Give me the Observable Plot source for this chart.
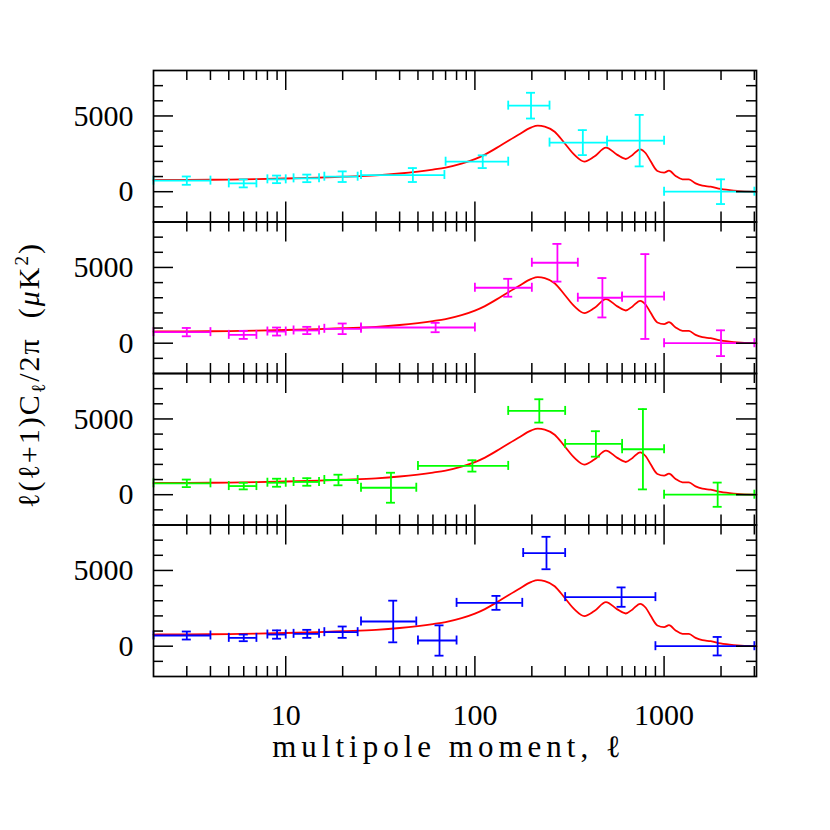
<!DOCTYPE html>
<html><head><meta charset="utf-8">
<script src="https://cdn.jsdelivr.net/npm/d3@7"></script>
<script src="https://cdn.jsdelivr.net/npm/@observablehq/plot@0.6"></script>
<style>
html,body{margin:0;padding:0;background:#fff;}
#chart{width:830px;height:830px;}
</style></head>
<body><div id="chart"></div>
<script>
// ---- data ----
const panelColors = ["#00ffff", "#ff00ff", "#00ff00", "#0000ff"];

// panel 1 (cyan)
const ell1  = [3, 6, 9, 13, 20, 47, 110, 198, 372, 743, 2000];
const lmin1 = [2, 5, 8, 11, 16, 25, 70, 150, 248, 500, 1000];
const lmax1 = [4, 7, 10, 15, 24, 69, 150, 248, 500, 1000, 3000];
const val1  = [730, 550, 815, 880, 990, 1100, 1980, 5680, 3240, 3370, 0];
const err1  = [275, 265, 250, 250, 350, 460, 420, 850, 825, 1700, 815];

// panel 2 (magenta)
const ell2  = [3, 6, 9, 13, 20, 62, 150, 273, 472, 796, 2000];
const lmin2 = [2, 5, 8, 11, 16, 25, 100, 200, 350, 600, 1000];
const lmax2 = [4, 7, 10, 15, 25, 100, 200, 350, 600, 1000, 3000];
const val2  = [730, 550, 770, 840, 950, 1035, 3660, 5310, 3000, 3080, 0];
const err2  = [275, 265, 265, 240, 350, 310, 590, 1245, 1300, 2800, 850];

// panel 3 (green)
const ell3  = [3, 6, 9, 13, 19, 36, 97, 219, 436, 773, 1920];
const lmin3 = [2, 5, 8, 11, 16, 25, 50, 150, 300, 600, 1000];
const lmax3 = [4, 7, 10, 15, 24, 49, 150, 300, 600, 1000, 3000];
const val3  = [750, 570, 790, 840, 970, 460, 1900, 5530, 3350, 3000, 0];
const err3  = [250, 220, 265, 250, 350, 990, 375, 770, 840, 2650, 800];

// panel 4 (blue)
const ell4  = [3, 6, 9, 13, 20, 37, 65, 130, 239, 596, 1920];
const lmin4 = [2, 5, 8, 11, 16, 25, 50, 80, 180, 300, 900];
const lmax4 = [4, 7, 10, 15, 24, 49, 80, 178, 300, 900, 3000];
const val4  = [705, 550, 770, 815, 925, 1630, 375, 2860, 6150, 3240, 0];
const err4  = [265, 220, 275, 265, 375, 1375, 1000, 460, 1070, 640, 610];

// theory curve
const theoryEll = [2, 3, 5, 7, 10, 15, 20, 30, 40, 50, 60, 70, 85, 100, 113, 138, 169, 199, 215, 234, 264, 298, 336, 379, 428, 493, 566, 627, 681, 747, 800, 851, 922, 1000, 1062, 1151, 1252, 1353, 1468, 1593, 1764, 1991, 2338, 3000, 3080];
const theoryVal = [770, 780, 800, 830, 870, 930, 990, 1080, 1200, 1330, 1460, 1590, 1850, 2150, 2450, 3080, 3740, 4250, 4360, 4300, 3960, 3200, 2430, 1990, 2320, 2910, 2430, 2160, 2430, 2800, 2540, 1990, 1370, 1260, 1390, 1040, 820, 810, 550, 400, 330, 180, 70, 0, 0];

// axis ticks
const xDomain = [2, 3080];
const yDomain = [-2000, 8000];
const xMajor = [10, 100, 1000];
const xMinor = [3, 4, 5, 6, 7, 8, 9, 20, 30, 40, 50, 60, 70, 80, 90, 200, 300, 400, 500, 600, 700, 800, 900, 2000, 3000];
const yMajor = [0, 5000];
const yMinor = [-1000, 1000, 2000, 3000, 4000, 6000, 7000];
const yLabels = [0, 5000];
const xLabels = [10, 100, 1000];

// ---- build ----
const panels = [
  {l: ell1, lo: lmin1, hi: lmax1, v: val1, e: err1},
  {l: ell2, lo: lmin2, hi: lmax2, v: val2, e: err2},
  {l: ell3, lo: lmin3, hi: lmax3, v: val3, e: err3},
  {l: ell4, lo: lmin4, hi: lmax4, v: val4, e: err4}
];
const points = panels.flatMap((p, k) => p.l.map((l, i) => ({
  panel: k, l, lo: p.lo[i], hi: p.hi[i], v: p.v[i], e: p.e[i], c: panelColors[k]
})));
const theory = theoryEll.map((l, i) => ({l, v: theoryVal[i]}));

const FONT = "'Liberation Serif', 'Times New Roman', serif";
const eb = {fy: "panel", stroke: "c", strokeWidth: 1.8};
const cap = 4.5;
const tk = {stroke: "black", strokeWidth: 1.5};
const MAJ = 20, MIN = 10;

const chart = Plot.plot({
  width: 830, height: 830,
  marginLeft: 153, marginRight: 74, marginTop: 70, marginBottom: 154,
  style: {fontFamily: FONT, fontSize: "30px", background: "#fff", color: "black"},
  x: {type: "log", domain: xDomain},
  y: {domain: yDomain},
  fy: {domain: [0, 1, 2, 3], padding: 0, round: false, axis: null},
  color: {type: "identity"},
  marks: [
    Plot.line(theory, {x: "l", y: "v", stroke: "#ff0000", strokeWidth: 1.8, curve: "monotone-x"}),
    // horizontal bars
    Plot.ruleY(points, {...eb, y: "v", x1: "lo", x2: "hi"}),
    // vertical bars
    Plot.ruleX(points, {...eb, x: "l", y1: d => d.v - d.e, y2: d => d.v + d.e}),
    // caps of vertical bars
    Plot.ruleY(points, {...eb, y: d => d.v - d.e, x1: "l", x2: "l", insetLeft: -cap, insetRight: -cap}),
    Plot.ruleY(points, {...eb, y: d => d.v + d.e, x1: "l", x2: "l", insetLeft: -cap, insetRight: -cap}),
    // caps of horizontal bars
    Plot.ruleX(points, {...eb, x: "lo", y1: "v", y2: "v", insetTop: -cap, insetBottom: -cap}),
    Plot.ruleX(points, {...eb, x: "hi", y1: "v", y2: "v", insetTop: -cap, insetBottom: -cap}),
    // inward x ticks, bottom & top of each panel
    Plot.ruleX(xMajor, {...tk, x: d => d, y1: yDomain[0], y2: yDomain[0], insetTop: -MAJ}),
    Plot.ruleX(xMinor, {...tk, x: d => d, y1: yDomain[0], y2: yDomain[0], insetTop: -MIN}),
    Plot.ruleX(xMajor, {...tk, x: d => d, y1: yDomain[1], y2: yDomain[1], insetBottom: -MAJ}),
    Plot.ruleX(xMinor, {...tk, x: d => d, y1: yDomain[1], y2: yDomain[1], insetBottom: -MIN}),
    // inward y ticks, left & right
    Plot.ruleY(yMajor, {...tk, y: d => d, x1: xDomain[0], x2: xDomain[0], insetRight: -MAJ}),
    Plot.ruleY(yMinor, {...tk, y: d => d, x1: xDomain[0], x2: xDomain[0], insetRight: -MIN}),
    Plot.ruleY(yMajor, {...tk, y: d => d, x1: xDomain[1], x2: xDomain[1], insetLeft: -MAJ}),
    Plot.ruleY(yMinor, {...tk, y: d => d, x1: xDomain[1], x2: xDomain[1], insetLeft: -MIN}),
    Plot.frame({stroke: "black", strokeWidth: 1.7}),
    Plot.axisY({ticks: yLabels, tickSize: 0, tickPadding: 20, fontSize: 30, tickFormat: d => String(d), label: null}),
    Plot.axisX({ticks: xLabels, tickSize: 0, tickPadding: 27, fontSize: 30, tickFormat: d => String(d), label: null})
  ]
});

document.getElementById("chart").appendChild(chart);

// axis titles
const svg = d3.select(chart);
svg.append("text")
  .attr("x", 449).attr("y", 757)
  .attr("text-anchor", "middle")
  .attr("font-family", FONT).attr("font-size", 31)
  .attr("letter-spacing", 5)
  .attr("fill", "black")
  .text("multipole moment, ℓ");

const yl = svg.append("text")
  .attr("transform", "translate(39,375) rotate(-90)")
  .attr("text-anchor", "middle")
  .attr("font-family", FONT).attr("font-size", 30)
  .attr("letter-spacing", 2)
  .attr("fill", "black");
yl.append("tspan").text("ℓ(ℓ+1)C");
yl.append("tspan").attr("font-size", 20).attr("dy", 6).text("ℓ");
yl.append("tspan").attr("dy", -6).text("/2π  (");
yl.append("tspan").attr("font-style", "italic").text("μ");
yl.append("tspan").text("K");
yl.append("tspan").attr("font-size", 19).attr("dy", -11).text("2");
yl.append("tspan").attr("dy", 11).text(")");
</script>
</body></html>
